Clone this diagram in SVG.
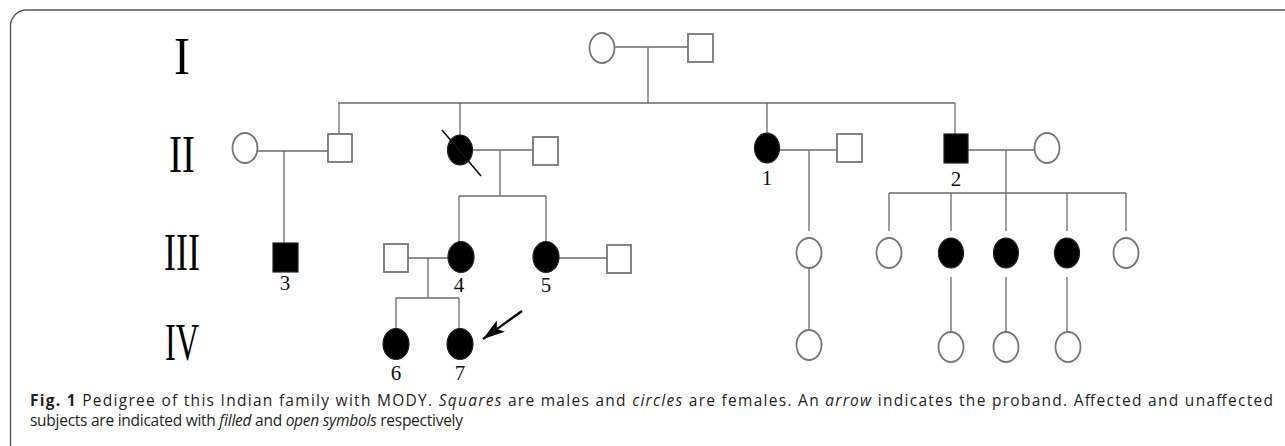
<svg xmlns="http://www.w3.org/2000/svg" width="1285" height="446" viewBox="0 0 1285 446">
<style>
.ln{stroke:#6a6a6a;stroke-width:1.3;fill:none}
.o{fill:#fff;stroke:#777;stroke-width:1.8}
.f{fill:#000;stroke:#222;stroke-width:1.2}
.gen{font-family:"Liberation Serif","Times New Roman",serif;font-size:52px;fill:#000;text-anchor:middle}
.num{font-family:"Liberation Serif","Times New Roman",serif;font-size:21px;fill:#111;text-anchor:middle}
.cap{font-family:"Open Sans","Noto Sans",sans-serif;font-size:15.5px;fill:#231f20}
.b{font-weight:bold}
.i{font-style:italic}
</style>
<defs>
<marker id="ah" viewBox="0 0 22 14" refX="22" refY="7" markerWidth="22" markerHeight="14" markerUnits="userSpaceOnUse" orient="auto">
<path d="M0,0 L22,7 L0,14 L5,7 Z" fill="#000"/>
</marker>
</defs>
<rect width="1285" height="446" fill="#fff"/>
<path d="M10.5,446 V26 A16,16 0 0 1 26.5,10 H1285" fill="none" stroke="#555" stroke-width="1.4"/>

<g id="generation-labels">
<text class="gen" x="182" y="74" textLength="16" lengthAdjust="spacingAndGlyphs">I</text>
<text class="gen" x="182" y="172" textLength="26" lengthAdjust="spacingAndGlyphs">II</text>
<text class="gen" x="182" y="270" textLength="36" lengthAdjust="spacingAndGlyphs">III</text>
<text class="gen" x="182" y="360" textLength="34" lengthAdjust="spacingAndGlyphs">IV</text>
</g>

<g id="connectors">
<line class="ln" x1="614" y1="47" x2="688" y2="47"/>
<line class="ln" x1="648" y1="47" x2="648" y2="103"/>
<line class="ln" x1="338" y1="103" x2="955" y2="103"/>
<line class="ln" x1="339" y1="103" x2="339" y2="134"/>
<line class="ln" x1="460" y1="103" x2="460" y2="135"/>
<line class="ln" x1="767" y1="103" x2="767" y2="133"/>
<line class="ln" x1="955" y1="103" x2="955" y2="134"/>
<line class="ln" x1="257" y1="151" x2="328" y2="151"/>
<line class="ln" x1="284" y1="151" x2="284" y2="243"/>
<line class="ln" x1="472" y1="150" x2="533" y2="150"/>
<line class="ln" x1="500" y1="150" x2="500" y2="196"/>
<line class="ln" x1="459" y1="196" x2="546" y2="196"/>
<line class="ln" x1="459" y1="196" x2="459" y2="242"/>
<line class="ln" x1="546" y1="196" x2="546" y2="242"/>
<line class="ln" x1="779" y1="150" x2="837" y2="150"/>
<line class="ln" x1="809" y1="150" x2="809" y2="231"/>
<line class="ln" x1="809" y1="268" x2="809" y2="330"/>
<line class="ln" x1="968" y1="150" x2="1034" y2="150"/>
<line class="ln" x1="1006" y1="150" x2="1006" y2="193"/>
<line class="ln" x1="889" y1="193" x2="1126" y2="193"/>
<line class="ln" x1="889" y1="193" x2="889" y2="231"/>
<line class="ln" x1="951" y1="193" x2="951" y2="231"/>
<line class="ln" x1="1006" y1="193" x2="1006" y2="231"/>
<line class="ln" x1="1067" y1="193" x2="1067" y2="231"/>
<line class="ln" x1="1126" y1="193" x2="1126" y2="231"/>
<line class="ln" x1="951" y1="277" x2="951" y2="332"/>
<line class="ln" x1="1006" y1="277" x2="1006" y2="332"/>
<line class="ln" x1="1067" y1="277" x2="1067" y2="332"/>
<line class="ln" x1="408" y1="258" x2="448" y2="258"/>
<line class="ln" x1="428" y1="258" x2="428" y2="298"/>
<line class="ln" x1="396" y1="298" x2="459" y2="298"/>
<line class="ln" x1="396" y1="298" x2="396" y2="329"/>
<line class="ln" x1="459" y1="298" x2="459" y2="329"/>
<line class="ln" x1="559" y1="258" x2="607" y2="258"/>
<line x1="522" y1="311" x2="483" y2="339" stroke="#000" stroke-width="2.4" marker-end="url(#ah)"/>
</g>

<g id="I-1"><ellipse class="o" cx="602" cy="48" rx="12.5" ry="15"/></g>
<g id="I-2"><rect class="o" x="688" y="34" width="25" height="28"/></g>

<g id="II-1"><ellipse class="o" cx="245" cy="148" rx="12.5" ry="15"/></g>
<g id="II-2"><rect class="o" x="328" y="134" width="24" height="28"/></g>
<g id="II-3"><ellipse class="f" cx="460" cy="150" rx="12.5" ry="15"/><line x1="442" y1="130" x2="481" y2="176" stroke="#111" stroke-width="1.6"/></g>
<g id="II-4"><rect class="o" x="533" y="137" width="25" height="28"/></g>
<g id="II-5"><ellipse class="f" cx="767" cy="148" rx="12.5" ry="15"/><text class="num" x="767" y="185">1</text></g>
<g id="II-6"><rect class="o" x="837" y="134" width="25" height="28"/></g>
<g id="II-7"><rect class="f" x="944" y="134" width="24" height="29"/><text class="num" x="956" y="186">2</text></g>
<g id="II-8"><ellipse class="o" cx="1047" cy="148" rx="12.5" ry="15"/></g>

<g id="III-1"><rect class="f" x="273" y="243" width="25" height="29"/><text class="num" x="285" y="290">3</text></g>
<g id="III-2"><rect class="o" x="384" y="244" width="24" height="28"/></g>
<g id="III-3"><ellipse class="f" cx="461" cy="257" rx="13" ry="15.5"/><text class="num" x="459" y="292">4</text></g>
<g id="III-4"><ellipse class="f" cx="546" cy="257" rx="13" ry="15.5"/><text class="num" x="546" y="292">5</text></g>
<g id="III-5"><rect class="o" x="607" y="245" width="24" height="28"/></g>
<g id="III-6"><ellipse class="o" cx="809" cy="253" rx="12.5" ry="15"/></g>
<g id="III-7"><ellipse class="o" cx="889" cy="253" rx="12.5" ry="15"/></g>
<g id="III-8"><ellipse class="f" cx="951" cy="253" rx="12.5" ry="15"/></g>
<g id="III-9"><ellipse class="f" cx="1006" cy="253" rx="12.5" ry="15"/></g>
<g id="III-10"><ellipse class="f" cx="1067" cy="253" rx="12.5" ry="15"/></g>
<g id="III-11"><ellipse class="o" cx="1126" cy="253" rx="12.5" ry="15"/></g>

<g id="IV-1"><ellipse class="f" cx="396" cy="344" rx="13" ry="15.5"/><text class="num" x="396" y="380">6</text></g>
<g id="IV-2"><ellipse class="f" cx="460" cy="344" rx="13" ry="15.5"/><text class="num" x="460" y="380">7</text></g>
<g id="IV-3"><ellipse class="o" cx="809" cy="345" rx="12.5" ry="15"/></g>
<g id="IV-4"><ellipse class="o" cx="951" cy="347" rx="12.5" ry="15"/></g>
<g id="IV-5"><ellipse class="o" cx="1006" cy="347" rx="12.5" ry="15"/></g>
<g id="IV-6"><ellipse class="o" cx="1068" cy="347" rx="12.5" ry="15"/></g>

<g id="caption">
<text class="cap" x="30" y="406" textLength="1243" lengthAdjust="spacing"><tspan class="b">Fig. 1</tspan>  Pedigree of this Indian family with MODY. <tspan class="i">Squares</tspan> are males and <tspan class="i">circles</tspan> are females. An <tspan class="i">arrow</tspan> indicates the proband. Affected and unaffected</text>
<text class="cap" x="30" y="426" textLength="433" lengthAdjust="spacing">subjects are indicated with <tspan class="i">filled</tspan> and <tspan class="i">open symbols</tspan> respectively</text>
</g>
</svg>
